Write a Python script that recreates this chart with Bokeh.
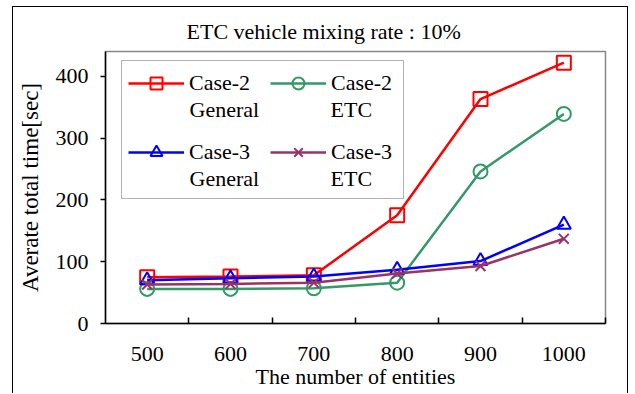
from bokeh.plotting import figure
from bokeh.models import (FixedTicker, Range1d, Label, Legend, LegendItem,
                          BoxAnnotation, Title)
from bokeh.embed import file_html
from bokeh.resources import INLINE

# Average total time [sec] by number of entities, ETC mixing rate 10%
entities = [500, 600, 700, 800, 900, 1000]
case2_general = [75, 76, 78, 175, 363, 422]
case2_etc = [56, 56, 57, 66, 246, 339]
case3_general = [70, 73, 76, 87, 101, 160]
case3_etc = [63, 64, 66, 81, 93, 137]
y_ticks = [0, 100, 200, 300, 400]
boundaries = [550, 650, 750, 850, 950, 1050]

FONT = "'Liberation Serif', 'Times New Roman', serif"
FS = "22px"

p = figure(width=616, height=387,
           x_range=Range1d(450, 1050), y_range=Range1d(0, 440),
           output_backend="svg", toolbar_location=None,
           min_border_left=92, min_border_right=24,
           min_border_top=44, min_border_bottom=71)
p.margin = (6, 0, 0, 12)
p.styles = {"border-left": "1px solid black",
            "border-top": "1px solid black",
            "border-right": "1px solid black"}

p.xgrid.visible = False
p.ygrid.visible = False
p.outline_line_color = "#868686"
p.outline_line_width = 1.5

# title centred on the whole box rather than on the plot frame
p.add_layout(Title(text="ETC vehicle mixing rate : 10%", align="left",
                   offset=81, standoff=16,
                   text_font=FONT, text_font_size=FS,
                   text_font_style="normal", text_color="black"), "above")

# x axis: labels at categories, ticks on the category boundaries
xa = p.xaxis[0]
xa.ticker = FixedTicker(ticks=entities, minor_ticks=boundaries)
xa.major_tick_line_color = None
xa.minor_tick_line_color = "black"
xa.minor_tick_line_width = 1.5
xa.minor_tick_in = 6
xa.minor_tick_out = 0
xa.axis_line_color = "black"
xa.axis_line_width = 1.5
xa.major_label_standoff = 17
xa.major_label_text_font = FONT
xa.major_label_text_font_size = FS
xa.major_label_text_color = "black"
xa.axis_label = "The number of entities"
xa.axis_label_text_font = FONT
xa.axis_label_text_font_size = FS
xa.axis_label_text_font_style = "normal"
xa.axis_label_text_color = "black"
xa.axis_label_standoff = 0

ya = p.yaxis[0]
ya.ticker = FixedTicker(ticks=y_ticks, minor_ticks=[])
ya.major_tick_in = 0
ya.major_tick_out = 5
ya.major_tick_line_width = 1.5
ya.axis_line_color = "black"
ya.axis_line_width = 1.5
ya.major_label_standoff = 12
ya.major_label_text_font = FONT
ya.major_label_text_font_size = FS
ya.major_label_text_color = "black"
ya.axis_label = "Averate total time[sec]"
ya.axis_label_text_font = FONT
ya.axis_label_text_font_size = "23px"
ya.axis_label_text_font_style = "normal"
ya.axis_label_text_color = "black"
ya.axis_label_standoff = 10

series = [
    ("Case-2", "General", case2_general, "#FF0000", "square"),
    ("Case-2", "ETC", case2_etc, "#339966", "circle"),
    ("Case-3", "General", case3_general, "#0000FF", "triangle"),
    ("Case-3", "ETC", case3_etc, "#993366", "x"),
]

items = []
for head, tail, vals, color, marker in series:
    ln = p.line(entities, vals, line_color=color, line_width=2.5)
    sc = p.scatter(entities, vals, marker=marker, size=14,
                   line_color=color, line_width=2, fill_color=None)
    items.append(LegendItem(label=head, renderers=[ln, sc]))

# legend frame
p.add_layout(BoxAnnotation(left=16, right=298, bottom=125, top=263,
                           left_units="screen", right_units="screen",
                           bottom_units="screen", top_units="screen",
                           fill_color="white", fill_alpha=1,
                           line_color="black", line_width=1))

# legend: two columns, each item labelled on two lines
for col, x0 in enumerate([23, 165]):
    lg = Legend(items=[items[col], items[col + 2]], location=(x0, 156),
                label_text_font=FONT, label_text_font_size=FS,
                label_text_color="black",
                glyph_width=56, glyph_height=30, label_height=30,
                label_standoff=5, spacing=39, padding=0, margin=0,
                border_line_color=None, background_fill_alpha=0)
    p.add_layout(lg, "center")
for i, (head, tail, *_rest) in enumerate(series):
    p.add_layout(Label(x=[84, 225][i % 2], y=[214, 145][i // 2],
                       x_units="screen", y_units="screen", text=tail,
                       text_align="left", text_baseline="middle",
                       text_font=FONT, text_font_size=FS,
                       text_color="black"))

open("out.html", "w").write(file_html(p, INLINE))
